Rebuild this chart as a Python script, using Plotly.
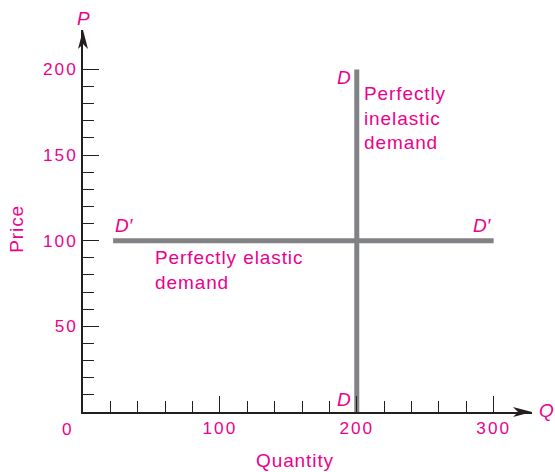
import plotly.graph_objects as go

# demand curves
elastic_q = [22, 300]
elastic_p = [100, 100]
inelastic_q = [200, 200]
inelastic_p = [0, 200]

# axis ticks
x_major = [100, 200, 300]
x_minor = [20, 40, 60, 80, 120, 140, 160, 180, 220, 240, 260, 280]
y_major = [50, 100, 150, 200]
y_minor = [10, 20, 30, 40, 60, 70, 80, 90, 110, 120, 130, 140, 160, 170, 180, 190]

PINK = '#EC008C'
GRAY = '#808285'
INK = '#231F20'
FONT = 'Liberation Sans, Arial, sans-serif'


def sp(s, ls=0.9):
    # loose tracking like the printed figure
    return '<span style="letter-spacing:%spx">%s</span>' % (ls, s)


fig = go.Figure()
fig.add_trace(go.Scatter(x=elastic_q, y=elastic_p, mode='lines',
                         line=dict(color=GRAY, width=5), hoverinfo='skip'))
fig.add_trace(go.Scatter(x=inelastic_q, y=inelastic_p, mode='lines',
                         line=dict(color=GRAY, width=5), hoverinfo='skip'))

tick = dict(ticks='inside', tickcolor=INK, tickwidth=1.4, ticklen=16,
            showline=True, linecolor=INK, linewidth=1.6, showgrid=False,
            zeroline=False, tickmode='array',
            tickfont=dict(family=FONT, size=17.2, color=PINK))

fig.update_layout(
    width=555, height=472,
    margin=dict(l=83, r=23, t=30, b=60),
    plot_bgcolor='white', paper_bgcolor='white',
    showlegend=False,
    xaxis=dict(range=[0, 328], tickvals=x_major,
               ticktext=[sp(str(v), 2) for v in x_major],
               minor=dict(tickvals=x_minor, ticks='inside', ticklen=11,
                          tickcolor=INK, tickwidth=1.4),
               **tick),
    yaxis=dict(range=[0, 223], tickvals=y_major,
               ticktext=[sp(str(v), 2) for v in y_major],
               minor=dict(tickvals=y_minor, ticks='inside', ticklen=11,
                          tickcolor=INK, tickwidth=1.4),
               **tick),
)

# arrow heads on the axes (paper refs so they are not clipped)
fig.add_shape(type='path', xref='paper', yref='paper', xsizemode='pixel', ysizemode='pixel',
              xanchor=1, yanchor=0, path='M0,0 L-19,5 L-14,0 L-19,-5 Z',
              fillcolor=INK, line=dict(width=0))
fig.add_shape(type='path', xref='paper', yref='paper', xsizemode='pixel', ysizemode='pixel',
              xanchor=0, yanchor=1, path='M0,0 L5,-19 L0,-14 L-5,-19 Z',
              fillcolor=INK, line=dict(width=0))

f19 = dict(family=FONT, size=19, color=PINK)
notes = [
    dict(x=0, y=223, text='<i>P</i>', xanchor='center', yanchor='bottom', yshift=-1),
    dict(x=328, y=0, text='<i>Q</i>', xanchor='left', yanchor='middle', xshift=5, yshift=2),
    dict(x=0, y=0, text=sp('0', 2), xanchor='center', yanchor='middle', xshift=-15, yshift=-17,
         font=dict(family=FONT, size=17.2, color=PINK)),
    dict(x=155, y=0, text=sp('Quantity'), xanchor='center', yanchor='middle', yshift=-48),
    dict(x=0, y=107, text=sp('Price'), textangle=-90, xanchor='center', yanchor='middle', xshift=-66),
    dict(x=200, y=200, text='<i>D</i>', xanchor='right', yanchor='top', xshift=-4, yshift=4),
    dict(x=200, y=0, text='<i>D</i>', xanchor='right', yanchor='bottom', xshift=-4, yshift=0),
    dict(x=22, y=100, text='<i>D\u2032</i>', xanchor='left', yanchor='bottom', yshift=3),
    dict(x=300, y=100, text='<i>D\u2032</i>', xanchor='right', yanchor='bottom', yshift=3),
    dict(x=51, y=100, text=sp('Perfectly elastic') + '<br>' + sp('demand'),
         xanchor='left', yanchor='top', align='left', yshift=-4),
    dict(x=200, y=200, text=sp('Perfectly') + '<br>' + sp('inelastic') + '<br>' + sp('demand'),
         xanchor='left', yanchor='top', align='left', xshift=5, yshift=-12),
]
for n in notes:
    n.setdefault('font', f19)
    fig.add_annotation(xref='x', yref='y', showarrow=False, **n)

# drop the default 8px page margin so the figure fills the window exactly
fig.write_html('out.html', config={'displayModeBar': False},
               post_script="document.body.style.margin='0';")
